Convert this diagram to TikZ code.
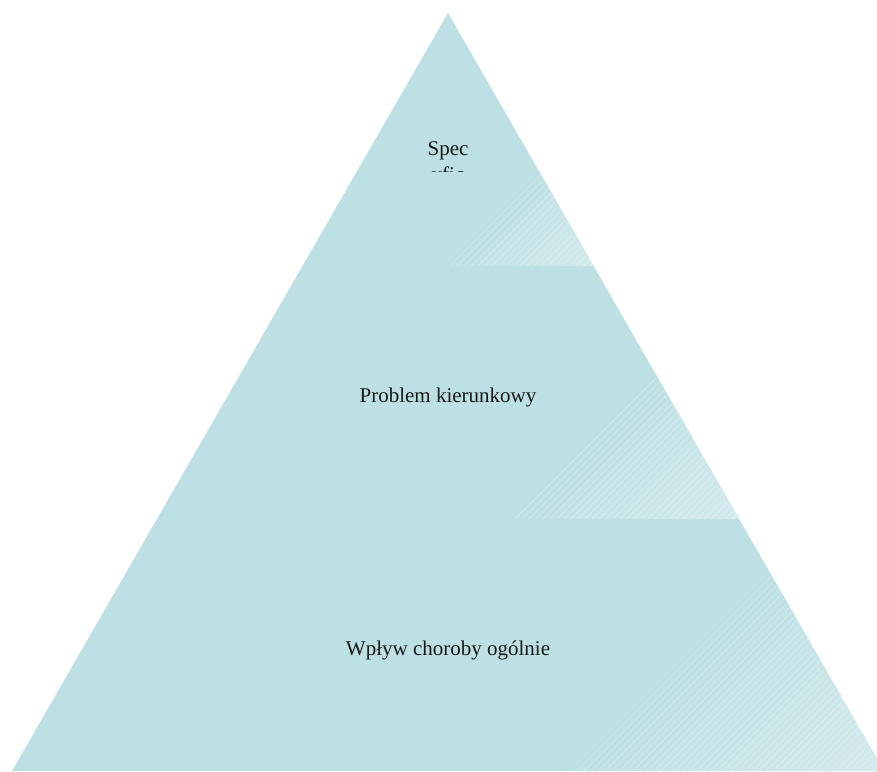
\documentclass[tikz,border=0pt]{standalone}
\usepackage{fontspec}
\setmainfont{Liberation Serif}
\begin{document}
\begin{tikzpicture}[x=1pt,y=-1pt]
\definecolor{pyr}{RGB}{188,224,227}
\definecolor{pyrlight}{RGB}{212,234,237}
\tikzset{lbl/.style={font=\fontsize{21}{24}\selectfont, text=black!90, inner sep=0pt, anchor=base},
  hatchline/.style={white, opacity=0.4, line width=0.4pt}}
\useasboundingbox (0,0) rectangle (877,771);
\clip (0,0) rectangle (877,771);
\fill[pyr] (448,13) -- (12,771) -- (884,771) -- cycle;
\foreach \ax/\by/\sp in {443/266/151, 508/519/231, 570/771/314} {
  \begin{scope}
    \clip (448,13) -- (12,771) -- (884,771) -- cycle;
    \clip (\ax,\by) -- ++(400,-400) -- ++(400,400) -- cycle;
    \pgfmathtruncatemacro\nst{\sp/5+1}
    \foreach \k in {0,...,\nst} {
      \pgfmathsetmacro\pct{min(100,(500/\sp)*\k)}
      \fill[pyrlight!\pct!pyr] ({\ax+\by+5*\k-800},800) -- ({\ax+\by+5*\k+800},-800)
        -- ({\ax+\by+5*\k+806},-800) -- ({\ax+\by+5*\k-794},800) -- cycle;
    }
    \pgfmathtruncatemacro\nln{\sp/7+1}
    \foreach \k in {1,...,\nln} {
      \draw[hatchline] ({\ax+\by+7*\k-800},800) -- ({\ax+\by+7*\k+800},-800);
    }
  \end{scope}
}
\node[lbl] (t1) at (448,155) {Spec};
\begin{scope}
  \clip (400,160) rectangle (500,171);
  \node[lbl] (t1b) at (448,181) {yfic};
\end{scope}
\node[lbl] (t2) at (448,402) {Problem kierunkowy};
\node[lbl] (t3) at (448,655) {Wpływ choroby ogólnie};
\end{tikzpicture}
\end{document}
